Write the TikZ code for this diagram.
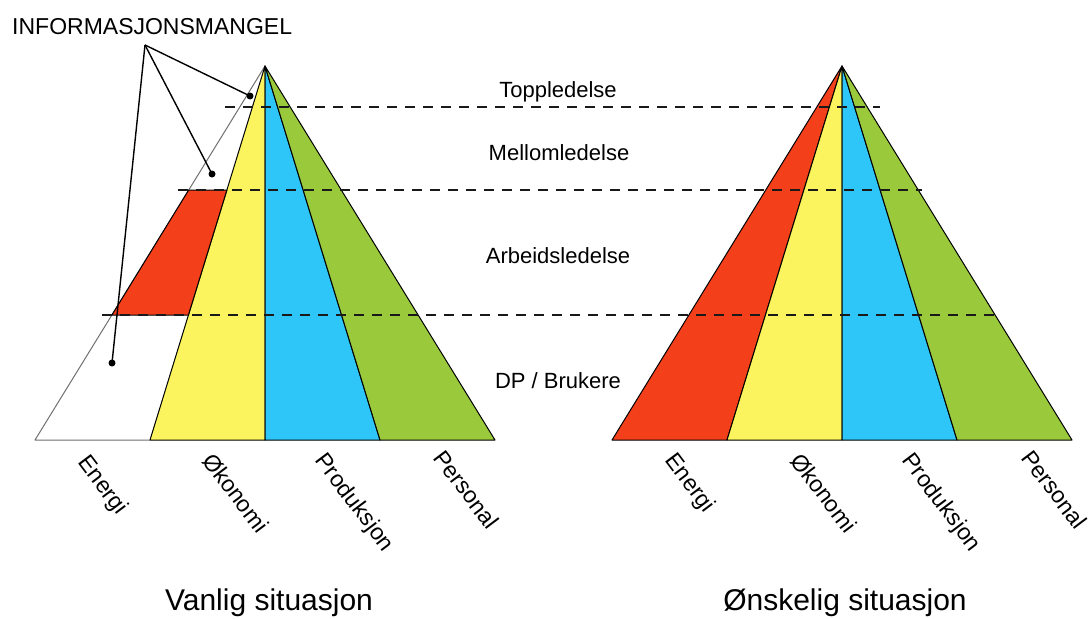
\documentclass[tikz,border=0pt]{standalone}
\usepackage{fontspec}
\setmainfont{Liberation Sans}
\definecolor{cred}{HTML}{F4401A}
\definecolor{cyel}{HTML}{FBF45E}
\definecolor{cblu}{HTML}{2EC6F8}
\definecolor{cgrn}{HTML}{9ACA3C}
\definecolor{cgray}{HTML}{707070}
\tikzset{
  sector/.style={draw=black, line width=1pt, line join=round},
  layerline/.style={draw=black!90, line width=2pt, dash pattern=on 10pt off 8pt},
  layerlabel/.style={inner sep=0pt, anchor=base, font=\fontsize{22}{26}\selectfont},
  catlabel/.style={inner sep=0pt, anchor=west, rotate=-53, font=\fontsize{23}{27}\selectfont},
  caption/.style={inner sep=0pt, anchor=base, font=\fontsize{30}{34}\selectfont},
  pointer/.style={draw=black, line width=1.4pt},
  dot/.style={circle, fill=black, inner sep=0pt, minimum size=7pt}
}
\begin{document}
\begin{tikzpicture}[x=1pt, y=-1pt]
\useasboundingbox (0,0) rectangle (1091,618);
% ---------- left pyramid ----------
\coordinate (LA) at (265,66);
\coordinate (L0) at (35,440);
\coordinate (L1) at (150,440);
\coordinate (L2) at (265,440);
\coordinate (L3) at (380,440);
\coordinate (L4) at (495,440);
\fill[white] (LA) -- (L0) -- (L1) -- cycle;
\draw[cgray, line width=1pt, line join=round] (LA) -- (L0) -- (L1);
\filldraw[sector, fill=cyel] (LA) -- (L1) -- (L2) -- cycle;
\filldraw[sector, fill=cblu] (LA) -- (L2) -- (L3) -- cycle;
\filldraw[sector, fill=cgrn] (LA) -- (L3) -- (L4) -- cycle;
% red trapezoid
\coordinate (R1) at (188.7,190);
\coordinate (R2) at (226.9,190);
\coordinate (R3) at (188.4,315);
\coordinate (R4) at (111.9,315);
\filldraw[sector, fill=cred] (R1) -- (R2) -- (R3) -- (R4) -- cycle;
% ---------- right pyramid ----------
\coordinate (RA) at (842,66);
\coordinate (Q0) at (612,440);
\coordinate (Q1) at (727,440);
\coordinate (Q2) at (842,440);
\coordinate (Q3) at (957,440);
\coordinate (Q4) at (1072,440);
\filldraw[sector, fill=cred] (RA) -- (Q0) -- (Q1) -- cycle;
\filldraw[sector, fill=cyel] (RA) -- (Q1) -- (Q2) -- cycle;
\filldraw[sector, fill=cblu] (RA) -- (Q2) -- (Q3) -- cycle;
\filldraw[sector, fill=cgrn] (RA) -- (Q3) -- (Q4) -- cycle;
% ---------- dashed layer lines ----------
\coordinate (D1a) at (225,107);  \coordinate (D1b) at (880,107);
\coordinate (D2a) at (178,190);  \coordinate (D2b) at (922,190);
\coordinate (D3a) at (102,315);  \coordinate (D3b) at (998,315);
\draw[layerline] (D1a) -- (D1b);
\draw[layerline] (D2a) -- (D2b);
\draw[layerline] (D3a) -- (D3b);
% ---------- layer labels ----------
\node[layerlabel] (top) at (558,97) {Toppledelse};
\node[layerlabel] (mid) at (559,160) {Mellomledelse};
\node[layerlabel] (arb) at (558,263) {Arbeidsledelse};
\node[layerlabel] (dp)  at (558,388) {DP / Brukere};
% ---------- information lack pointers ----------
\node[inner sep=0pt, anchor=base west, font=\fontsize{23}{27}\selectfont] (info) at (12,35) {INFORMASJONSMANGEL};
\coordinate (P) at (145,45);
\node[dot] (d1) at (250,96) {};
\node[dot] (d2) at (212,174) {};
\node[dot] (d3) at (112,363) {};
\draw[pointer] (P) -- (d1.center);
\draw[pointer] (P) -- (d2.center);
\draw[pointer] (P) -- (d3.center);
% ---------- category labels ----------
\node[catlabel] (le) at (82,459) {Energi};
\node[catlabel] (lo) at (208,456) {Økonomi};
\node[catlabel] (lp) at (319,457) {Produksjon};
\node[catlabel] (lpe) at (439,453) {Personal};
\node[catlabel] (re) at (669,457) {Energi};
\node[catlabel] (ro) at (796,456) {Økonomi};
\node[catlabel] (rp) at (906,457) {Produksjon};
\node[catlabel] (rpe) at (1027,453) {Personal};
% ---------- captions ----------
\node[caption] (cap1) at (269,610) {Vanlig situasjon};
\node[caption] (cap2) at (845,610) {Ønskelig situasjon};
\end{tikzpicture}
\end{document}
